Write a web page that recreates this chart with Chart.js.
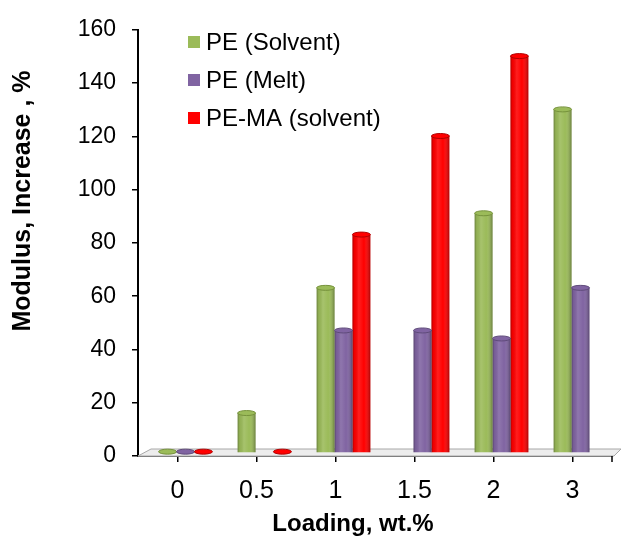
<!DOCTYPE html>
<html>
<head>
<meta charset="utf-8">
<script src="https://cdn.jsdelivr.net/npm/chart.js@4.4.1/dist/chart.umd.min.js"></script>
<style>
  html, body { margin: 0; padding: 0; background: #fff; }
  #wrap { width: 623px; height: 538px; }
</style>
</head>
<body>
<div id="wrap"><canvas id="modulusChart" width="623" height="538"></canvas></div>
<script>
// loading levels (wt.%) and modulus increase (%) per sample type
const loadings = ['0', '0.5', '1', '1.5', '2', '3'];
const peSolvent = [0.5, 15, 62, null, 90, 129];
const peMelt = [0.5, null, 46, 46, 43, 62];
const peMaSolvent = [0.5, 0.5, 82, 119, 149, null];
const yTicks = [0, 20, 40, 60, 80, 100, 120, 140, 160];

const FONT = "'Liberation Sans', Arial, sans-serif";
const colors = {
  green: { fill: '#9BBB59', edge: '#76923C' },
  purple: { fill: '#8064A2', edge: '#5F4B7A' },
  red: { fill: '#FF0000', edge: '#B00000' }
};
const shift = { dx: 8, dy: -3 }; // fake depth for the columns

const columns3d = {
  id: 'columns3d',
  beforeDatasetsDraw(chart) {
    const { ctx, chartArea: a } = chart;
    // thin floor under the columns
    ctx.save();
    ctx.beginPath();
    ctx.moveTo(a.left, a.bottom);
    ctx.lineTo(a.right + 2, a.bottom);
    ctx.lineTo(a.right + 9, a.bottom - 7);
    ctx.lineTo(a.left + 13, a.bottom - 7);
    ctx.closePath();
    ctx.fillStyle = '#ededed';
    ctx.fill();
    ctx.strokeStyle = '#a8a8a8';
    ctx.lineWidth = 1;
    ctx.stroke();
    ctx.restore();
    ctx.save();
    ctx.translate(shift.dx, shift.dy);
  },
  afterDatasetsDraw(chart) {
    const ctx = chart.ctx;
    chart.data.datasets.forEach((ds, i) => {
      const meta = chart.getDatasetMeta(i);
      meta.data.forEach((bar, j) => {
        if (ds.data[j] == null) return;
        const { x, y, base, width } = bar.getProps(['x', 'y', 'base', 'width'], true);
        const l = x - width / 2;
        const g = ctx.createLinearGradient(l, 0, l + width, 0);
        g.addColorStop(0, 'rgba(0,0,0,0.30)');
        g.addColorStop(0.12, 'rgba(0,0,0,0.05)');
        g.addColorStop(0.35, 'rgba(255,255,255,0.12)');
        g.addColorStop(0.65, 'rgba(255,255,255,0)');
        g.addColorStop(1, 'rgba(0,0,0,0.32)');
        ctx.fillStyle = g;
        ctx.fillRect(l, y, width, base - y);
        // column top
        ctx.beginPath();
        ctx.ellipse(x, y, width / 2, 2.5, 0, 0, Math.PI * 2);
        ctx.fillStyle = ds.backgroundColor;
        ctx.fill();
        ctx.strokeStyle = ds.edgeColor;
        ctx.lineWidth = 1;
        ctx.stroke();
      });
    });
    ctx.restore();
  },
  afterDraw(chart) {
    const { ctx, chartArea: a } = chart;
    ctx.save();
    // legend inside the plot
    ctx.font = '24px ' + FONT;
    ctx.textBaseline = 'middle';
    chart.data.datasets.forEach((ds, i) => {
      const yc = 42 + i * 38;
      ctx.fillStyle = ds.backgroundColor;
      ctx.fillRect(188, yc - 6, 12, 12);
      ctx.fillStyle = '#000';
      ctx.textAlign = 'left';
      ctx.fillText(ds.label, 206, yc + 1);
    });
    // end tick of the category axis
    ctx.strokeStyle = '#000';
    ctx.lineWidth = 1.5;
    ctx.beginPath();
    ctx.moveTo(a.right, a.bottom);
    ctx.lineTo(a.right, a.bottom + 6);
    ctx.stroke();
    // axis titles
    ctx.textAlign = 'center';
    ctx.font = 'bold 24px ' + FONT;
    ctx.fillText('Loading, wt.%', 353, 524);
    ctx.font = 'bold 25px ' + FONT;
    ctx.translate(23, 201);
    ctx.rotate(-Math.PI / 2);
    ctx.fillText('Modulus, Increase , %', 0, 0);
    ctx.restore();
  }
};

new Chart(document.getElementById('modulusChart'), {
  type: 'bar',
  data: {
    labels: loadings,
    datasets: [
      { label: 'PE (Solvent)', data: peSolvent, backgroundColor: colors.green.fill, edgeColor: colors.green.edge },
      { label: 'PE (Melt)', data: peMelt, backgroundColor: colors.purple.fill, edgeColor: colors.purple.edge },
      { label: 'PE-MA (solvent)', data: peMaSolvent, backgroundColor: colors.red.fill, edgeColor: colors.red.edge }
    ]
  },
  options: {
    responsive: false,
    animation: false,
    layout: { padding: { left: 0, top: 23, right: 11, bottom: 0 } },
    datasets: { bar: { categoryPercentage: 0.68, barPercentage: 1, borderWidth: 0 } },
    plugins: { legend: { display: false }, tooltip: { enabled: false } },
    scales: {
      x: {
        grid: { drawOnChartArea: false, offset: false, tickLength: 6, color: '#000', lineWidth: 1.5 },
        border: { color: '#595959', width: 2 },
        ticks: { color: '#000', font: { family: FONT, size: 25 }, padding: 14 },
        afterFit(scale) { scale.height = 82; }
      },
      y: {
        min: 0,
        max: 160,
        afterBuildTicks(scale) { scale.ticks = yTicks.map(v => ({ value: v })); },
        grid: { drawOnChartArea: false, tickLength: 6, color: '#000', lineWidth: 1.5 },
        border: { color: '#000', width: 2 },
        ticks: { color: '#000', font: { family: FONT, size: 23 }, padding: 16 },
        afterFit(scale) { scale.width = 138; }
      }
    }
  },
  plugins: [columns3d]
});
</script>
</body>
</html>
